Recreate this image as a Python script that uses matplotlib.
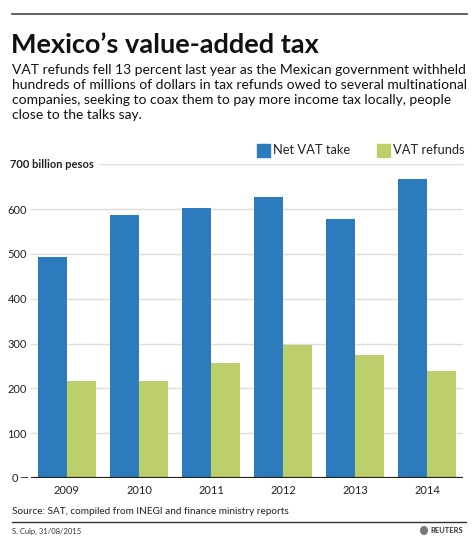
import matplotlib.pyplot as plt
import matplotlib.patches as mpatches
import numpy as np

plt.rcParams['font.family'] = ['Lato', 'DejaVu Sans']

years = ['2009', '2010', '2011', '2012', '2013', '2014']
net_vat = [493, 586, 603, 627, 579, 667]
vat_refunds = [217, 217, 256, 297, 274, 238]
yticks = [0, 100, 200, 300, 400, 500, 600]

blue = '#2b7bbd'
green = '#bccf6b'

W, H = 474, 539
fig = plt.figure(figsize=(W / 100, H / 100), dpi=100)


def fx(x):
    return x / W


def fy(y):
    return 1 - y / H


# axes placed in pixel terms
left, right, top, bottom = 31, 463, 164.4, 478
ax = fig.add_axes([fx(left), fy(bottom), fx(right - left), (bottom - top) / H])

x = np.arange(len(years))
w = 0.40
ax.bar(x - w / 2, net_vat, w, color=blue, label='Net VAT take', zorder=3)
ax.bar(x + w / 2, vat_refunds, w, color=green, label='VAT refunds', zorder=3)

ax.set_xlim(-0.5, 5.5)
ax.set_ylim(0, 700)
ax.set_yticks(yticks)
ax.set_xticks(x)
ax.set_xticklabels(years)
ax.tick_params(axis='both', length=0, labelsize=8, colors='#222222')
ax.tick_params(axis='y', pad=3)
ax.tick_params(axis='x', pad=5)
for s in ax.spines.values():
    s.set_visible(False)
for t in yticks[1:]:
    ax.axhline(t, color='#dcdcdc', lw=1, zorder=1)
ax.axhline(700, xmin=(100 - left) / (right - left), color='#dcdcdc', lw=1, zorder=1)
ax.axhline(0, color='#222222', lw=1.6, zorder=4)
ax.yaxis.set_major_formatter(plt.FuncFormatter(lambda v, p: '' if v == 0 else f'{int(v)}'))
fig.text(fx(12), fy(478), '0', fontsize=8, color='#222222', va='center', ha='left')
fig.text(fx(19), fy(478), '—', fontsize=8, color='#222222', va='center', ha='left')

fig.text(fx(10), fy(164.5), '700 billion pesos', fontsize=8, fontweight='bold',
         color='#222222', va='center', ha='left')

# legend
for xs, col, lab in [(257, blue, 'Net VAT take'), (377, green, 'VAT refunds')]:
    fig.patches.append(mpatches.Rectangle((fx(xs), fy(157)), 13 / W, 13 / H,
                                          transform=fig.transFigure, color=col))
    fig.text(fx(xs + 16), fy(150.5), lab, fontsize=9.3, color='#222222',
             va='center', ha='left')

# header
fig.add_artist(plt.Line2D([fx(12), fx(467)], [fy(14), fy(14)], color='#555555', lw=1.3))
fig.text(fx(11), fy(53), 'Mexico\u2019s value-added tax', fontsize=19.5, fontweight='bold',
         color='#111111', va='baseline', ha='left')
sub = ('VAT refunds fell 13 percent last year as the Mexican government withheld\n'
       'hundreds of millions of dollars in tax refunds owed to several multinational\n'
       'companies, seeking to coax them to pay more income tax locally, people\n'
       'close to the talks say.')
fig.text(fx(12), fy(64), sub, fontsize=10.0, color='#111111', va='top', ha='left',
         linespacing=1.3)

# footer
fig.text(fx(12), fy(511.5), 'Source: SAT, compiled from INEGI and finance ministry reports',
         fontsize=7.2, color='#222222', va='center', ha='left')
fig.add_artist(plt.Line2D([fx(12), fx(466)], [fy(521.5), fy(521.5)], color='#333333', lw=1))
fig.text(fx(12), fy(531), 'S. Culp, 31/08/2015', fontsize=5.5, color='#333333',
         va='center', ha='left')
fig.add_artist(mpatches.Circle((fx(424), fy(530.5)), 4 / W, transform=fig.transFigure,
                               facecolor='#777777', edgecolor='none'))
fig.text(fx(430), fy(530.5), 'REUTERS', fontsize=5.5, fontweight='bold', color='#333333',
         va='center', ha='left')

fig.savefig('out.png', dpi=100, facecolor='white')
